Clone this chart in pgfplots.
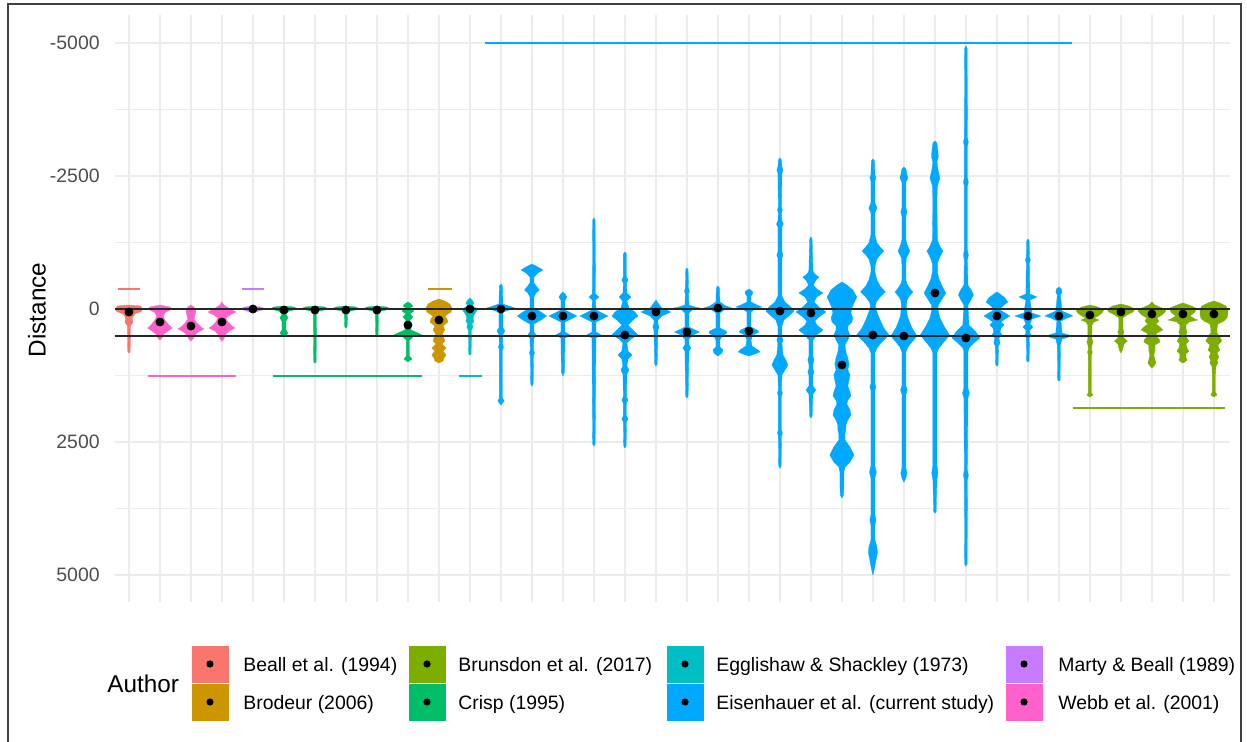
\documentclass[border=0pt]{standalone}
\usepackage{fontspec}
\setmainfont{Liberation Sans}
\usepackage{pgfplots}
\usepackage{pgfplotstable}
\pgfplotsset{compat=1.18}
\definecolor{cBeall}{HTML}{F8766D}
\definecolor{cBrodeur}{HTML}{CD9600}
\definecolor{cBrunsdon}{HTML}{7CAE00}
\definecolor{cCrisp}{HTML}{00BE67}
\definecolor{cEgg}{HTML}{00BFC4}
\definecolor{cEis}{HTML}{00A9FF}
\definecolor{cMarty}{HTML}{C77CFF}
\definecolor{cWebb}{HTML}{FF61CC}
\definecolor{gridc}{HTML}{EBEBEB}
\definecolor{tickc}{HTML}{4D4D4D}

\newcommand{\drawviolin}[3]{%
  \addplot[fill=#2, draw=#2, line width=0.15pt] table[x expr=#1+\thisrow{w}, y=y] {#3};
  \addplot[fill=#2, draw=#2, line width=0.15pt] table[x expr=#1-\thisrow{w}, y=y] {#3};
}

\pgfplotstableread[row sep=\\]{y w\\ -75 0\\ -56 0.39\\ 38 0.42\\ 94 0.19\\ 169 0.10\\ 244 0.13\\ 320 0.05\\ 808 0.04\\ 827 0\\}\violinA
\pgfplotstableread[row sep=\\]{y w\\ -75 0\\ -38 0.32\\ 0 0.39\\ 56 0.19\\ 132 0.10\\ 207 0.16\\ 301 0.29\\ 357 0.40\\ 414 0.26\\ 470 0.13\\ 545 0.065\\ 583 0\\}\violinB
\pgfplotstableread[row sep=\\]{y w\\ -75 0\\ -38 0.10\\ 38 0.16\\ 113 0.13\\ 188 0.10\\ 263 0.19\\ 338 0.32\\ 376 0.42\\ 432 0.23\\ 489 0.13\\ 564 0.065\\ 602 0\\}\violinC
\pgfplotstableread[row sep=\\]{y w\\ -132 0\\ -75 0.065\\ 0 0.26\\ 56 0.45\\ 113 0.26\\ 169 0.13\\ 244 0.19\\ 320 0.32\\ 357 0.42\\ 414 0.23\\ 489 0.10\\ 564 0.065\\ 602 0\\}\violinD
\pgfplotstableread[row sep=\\]{y w\\ -56 0\\ -38 0.26\\ 0 0.42\\ 38 0.19\\ 75 0\\}\violinE
\pgfplotstableread[row sep=\\]{y w\\ -56 0\\ -38 0.32\\ 0 0.45\\ 38 0.16\\ 94 0.065\\ 169 0.13\\ 226 0.065\\ 395 0.065\\ 451 0.13\\ 508 0.05\\ 526 0\\}\violinF
\pgfplotstableread[row sep=\\]{y w\\ -56 0\\ -38 0.32\\ 0 0.45\\ 38 0.13\\ 94 0.05\\ 996 0.04\\ 1015 0\\}\violinG
\pgfplotstableread[row sep=\\]{y w\\ -56 0\\ -38 0.32\\ 0 0.45\\ 38 0.13\\ 94 0.05\\ 338 0.04\\ 357 0\\}\violinH
\pgfplotstableread[row sep=\\]{y w\\ -56 0\\ -38 0.32\\ 0 0.45\\ 38 0.13\\ 94 0.05\\ 489 0.04\\ 508 0\\}\violinI
\pgfplotstableread[row sep=\\]{y w\\ -132 0\\ -94 0.10\\ -56 0.16\\ -19 0.065\\ 38 0.19\\ 94 0.065\\ 150 0.16\\ 207 0.065\\ 395 0.10\\ 451 0.32\\ 489 0.45\\ 526 0.16\\ 583 0.05\\ 884 0.05\\ 940 0.13\\ 996 0\\}\violinJ
\pgfplotstableread[row sep=\\]{y w\\ -188 0\\ -150 0.19\\ -94 0.35\\ -19 0.42\\ 56 0.39\\ 132 0.19\\ 188 0.26\\ 244 0.29\\ 320 0.13\\ 395 0.19\\ 470 0.10\\ 545 0.16\\ 602 0.19\\ 658 0.10\\ 733 0.23\\ 790 0.13\\ 865 0.23\\ 921 0.16\\ 978 0.13\\ 1015 0\\}\violinK
\pgfplotstableread[row sep=\\]{y w\\ -207 0\\ -169 0.065\\ -113 0.13\\ -56 0.065\\ 0 0.26\\ 56 0.19\\ 113 0.13\\ 169 0.10\\ 226 0.13\\ 282 0.065\\ 338 0.10\\ 395 0.05\\ 846 0.04\\ 865 0\\}\violinL
\pgfplotstableread[row sep=\\]{y w\\ -470 0\\ -432 0.05\\ -94 0.065\\ -56 0.26\\ -19 0.45\\ 19 0.26\\ 56 0.065\\ 357 0.065\\ 414 0.13\\ 470 0.065\\ 658 0.05\\ 714 0.08\\ 771 0.05\\ 1673 0.05\\ 1730 0.10\\ 1805 0\\}\violinM
\pgfplotstableread[row sep=\\]{y w\\ -846 0\\ -790 0.19\\ -733 0.35\\ -677 0.19\\ -602 0.065\\ -489 0.065\\ -414 0.16\\ -357 0.24\\ -301 0.13\\ -226 0.065\\ -19 0.065\\ 56 0.29\\ 132 0.47\\ 207 0.29\\ 282 0.065\\ 432 0.065\\ 489 0.13\\ 545 0.065\\ 771 0.05\\ 827 0.08\\ 884 0.05\\ 1410 0.04\\ 1448 0\\}\violinN
\pgfplotstableread[row sep=\\]{y w\\ -320 0\\ -282 0.065\\ -226 0.13\\ -169 0.065\\ 19 0.065\\ 75 0.26\\ 132 0.45\\ 188 0.26\\ 244 0.065\\ 432 0.065\\ 489 0.23\\ 545 0.065\\ 1184 0.05\\ 1260 0\\}\violinO
\pgfplotstableread[row sep=\\]{y w\\ -1711 0\\ -1673 0.04\\ -282 0.05\\ -226 0.16\\ -169 0.05\\ 19 0.065\\ 75 0.26\\ 132 0.45\\ 188 0.26\\ 244 0.065\\ 432 0.065\\ 489 0.23\\ 545 0.065\\ 2538 0.04\\ 2576 0\\}\violinP
\pgfplotstableread[row sep=\\]{y w\\ -1072 0\\ -1034 0.05\\ -602 0.05\\ -545 0.10\\ -489 0.05\\ -301 0.065\\ -226 0.19\\ -150 0.065\\ -19 0.13\\ 56 0.32\\ 132 0.42\\ 207 0.26\\ 301 0.10\\ 395 0.26\\ 489 0.42\\ 564 0.19\\ 639 0.065\\ 790 0.10\\ 865 0.23\\ 940 0.10\\ 1072 0.065\\ 1147 0.13\\ 1222 0.065\\ 1654 0.05\\ 1711 0.10\\ 1767 0.05\\ 2011 0.05\\ 2068 0.10\\ 2124 0.05\\ 2576 0.04\\ 2613 0\\}\violinQ
\pgfplotstableread[row sep=\\]{y w\\ -169 0\\ -113 0.065\\ -19 0.19\\ 56 0.48\\ 132 0.19\\ 207 0.065\\ 282 0.065\\ 338 0.10\\ 395 0.065\\ 1034 0.04\\ 1072 0\\}\violinR
\pgfplotstableread[row sep=\\]{y w\\ -771 0\\ -733 0.04\\ -395 0.05\\ -338 0.08\\ -282 0.05\\ -75 0.065\\ -38 0.26\\ -19 0.42\\ 19 0.16\\ 75 0.065\\ 338 0.065\\ 395 0.26\\ 432 0.40\\ 489 0.19\\ 564 0.065\\ 677 0.065\\ 733 0.13\\ 790 0.065\\ 1636 0.04\\ 1673 0\\}\violinS
\pgfplotstableread[row sep=\\]{y w\\ -432 0\\ -395 0.05\\ -132 0.065\\ -56 0.26\\ -19 0.45\\ 19 0.19\\ 75 0.065\\ 357 0.065\\ 414 0.26\\ 451 0.29\\ 508 0.13\\ 583 0.065\\ 714 0.065\\ 771 0.16\\ 827 0.13\\ 884 0\\}\violinT
\pgfplotstableread[row sep=\\]{y w\\ -376 0\\ -338 0.10\\ -301 0.13\\ -244 0.065\\ -132 0.065\\ -75 0.26\\ -38 0.42\\ 0 0.19\\ 56 0.065\\ 338 0.065\\ 395 0.26\\ 432 0.32\\ 489 0.13\\ 583 0.065\\ 696 0.10\\ 771 0.29\\ 808 0.35\\ 846 0.19\\ 884 0\\}\violinU
\pgfplotstableread[row sep=\\]{y w\\ -2839 0\\ -2801 0.05\\ -2669 0.065\\ -2613 0.10\\ -2556 0.065\\ -1918 0.05\\ -1861 0.08\\ -1805 0.05\\ -1654 0.065\\ -1598 0.11\\ -1542 0.065\\ -1072 0.065\\ -1015 0.10\\ -959 0.065\\ -244 0.065\\ -132 0.16\\ -38 0.35\\ 38 0.45\\ 113 0.32\\ 207 0.13\\ 320 0.065\\ 526 0.065\\ 583 0.10\\ 639 0.065\\ 865 0.10\\ 959 0.19\\ 1053 0.26\\ 1147 0.16\\ 1241 0.065\\ 1523 0.05\\ 1579 0.08\\ 1636 0.05\\ 2274 0.05\\ 2331 0.08\\ 2387 0.05\\ 2952 0.04\\ 2989 0\\}\violinV
\pgfplotstableread[row sep=\\]{y w\\ -1354 0\\ -1316 0.04\\ -733 0.065\\ -696 0.08\\ -639 0.16\\ -602 0.26\\ -545 0.16\\ -451 0.08\\ -376 0.19\\ -301 0.39\\ -226 0.19\\ -132 0.10\\ -38 0.26\\ 56 0.48\\ 150 0.26\\ 226 0.13\\ 301 0.19\\ 395 0.39\\ 489 0.19\\ 583 0.065\\ 884 0.065\\ 959 0.10\\ 1034 0.065\\ 1128 0.065\\ 1184 0.10\\ 1241 0.065\\ 1448 0.065\\ 1523 0.16\\ 1598 0.065\\ 2011 0.04\\ 2049 0\\}\violinW
\pgfplotstableread[row sep=\\]{y w\\ -508 0\\ -451 0.16\\ -357 0.35\\ -226 0.48\\ -113 0.39\\ -19 0.32\\ 75 0.29\\ 169 0.35\\ 244 0.32\\ 320 0.19\\ 395 0.19\\ 489 0.26\\ 583 0.19\\ 677 0.10\\ 808 0.13\\ 921 0.19\\ 1034 0.23\\ 1147 0.19\\ 1241 0.26\\ 1335 0.23\\ 1448 0.19\\ 1560 0.26\\ 1636 0.29\\ 1711 0.19\\ 1786 0.16\\ 1899 0.26\\ 1993 0.29\\ 2087 0.19\\ 2181 0.13\\ 2274 0.13\\ 2350 0.10\\ 2463 0.10\\ 2594 0.26\\ 2745 0.39\\ 2877 0.26\\ 2971 0.10\\ 3065 0.065\\ 3309 0.065\\ 3497 0.05\\ 3553 0\\}\violinX
\pgfplotstableread[row sep=\\]{y w\\ -2820 0\\ -2782 0.05\\ -2519 0.065\\ -2463 0.10\\ -2406 0.065\\ -1993 0.065\\ -1899 0.13\\ -1805 0.065\\ -1391 0.065\\ -1241 0.13\\ -1166 0.23\\ -1090 0.35\\ -1015 0.23\\ -940 0.13\\ -808 0.065\\ -696 0.065\\ -545 0.13\\ -432 0.23\\ -320 0.40\\ -226 0.23\\ -132 0.11\\ -56 0.08\\ 56 0.13\\ 207 0.23\\ 357 0.35\\ 489 0.52\\ 620 0.29\\ 733 0.13\\ 827 0.065\\ 1410 0.065\\ 1466 0.10\\ 1523 0.065\\ 2952 0.065\\ 3065 0.11\\ 3177 0.065\\ 3873 0.065\\ 3967 0.10\\ 4061 0.065\\ 4343 0.065\\ 4474 0.13\\ 4587 0.145\\ 4719 0.10\\ 4832 0.065\\ 5001 0\\}\violinY
\pgfplotstableread[row sep=\\]{y w\\ -2669 0\\ -2632 0.065\\ -2519 0.10\\ -2463 0.13\\ -2387 0.065\\ -1899 0.065\\ -1823 0.10\\ -1748 0.065\\ -1297 0.065\\ -1222 0.10\\ -1147 0.145\\ -1090 0.19\\ -1034 0.145\\ -959 0.08\\ -846 0.065\\ -545 0.065\\ -470 0.10\\ -395 0.18\\ -320 0.29\\ -244 0.18\\ -169 0.10\\ -56 0.08\\ 132 0.11\\ 244 0.18\\ 357 0.26\\ 508 0.42\\ 620 0.26\\ 714 0.13\\ 808 0.065\\ 1448 0.065\\ 1523 0.11\\ 1598 0.065\\ 2989 0.065\\ 3083 0.10\\ 3177 0.065\\ 3253 0\\}\violinZ
\pgfplotstableread[row sep=\\]{y w\\ -3158 0\\ -3121 0.065\\ -2952 0.10\\ -2858 0.11\\ -2764 0.065\\ -2613 0.10\\ -2463 0.16\\ -2312 0.08\\ -2049 0.065\\ -1297 0.08\\ -1222 0.13\\ -1147 0.19\\ -1090 0.26\\ -1015 0.19\\ -940 0.13\\ -846 0.08\\ -696 0.08\\ -564 0.13\\ -432 0.23\\ -301 0.35\\ -188 0.23\\ -75 0.11\\ 19 0.10\\ 169 0.16\\ 320 0.29\\ 489 0.47\\ 620 0.29\\ 733 0.13\\ 827 0.065\\ 2933 0.065\\ 3083 0.10\\ 3215 0.065\\ 3816 0.04\\ 3835 0\\}\violinAA
\pgfplotstableread[row sep=\\]{y w\\ -4944 0\\ -4906 0.04\\ -3215 0.05\\ -3140 0.08\\ -3065 0.05\\ -2463 0.05\\ -2387 0.08\\ -2312 0.05\\ -1109 0.05\\ -1015 0.08\\ -921 0.05\\ -451 0.065\\ -338 0.19\\ -263 0.24\\ -169 0.16\\ -75 0.065\\ 301 0.10\\ 432 0.32\\ 545 0.45\\ 639 0.26\\ 733 0.10\\ 808 0.065\\ 1485 0.065\\ 1579 0.11\\ 1673 0.065\\ 3027 0.05\\ 3121 0.08\\ 3215 0.05\\ 4794 0.04\\ 4832 0\\}\violinAB
\pgfplotstableread[row sep=\\]{y w\\ -320 0\\ -282 0.10\\ -207 0.26\\ -132 0.35\\ -56 0.19\\ 19 0.10\\ 75 0.26\\ 132 0.42\\ 188 0.26\\ 244 0.13\\ 301 0.23\\ 357 0.13\\ 432 0.10\\ 489 0.16\\ 545 0.065\\ 639 0.10\\ 696 0.05\\ 1053 0.04\\ 1072 0\\}\violinAC
\pgfplotstableread[row sep=\\]{y w\\ -1316 0\\ -1278 0.04\\ -978 0.05\\ -921 0.08\\ -865 0.05\\ -282 0.065\\ -226 0.29\\ -169 0.065\\ 75 0.13\\ 132 0.42\\ 188 0.13\\ 282 0.065\\ 338 0.16\\ 395 0.065\\ 451 0.065\\ 489 0.10\\ 545 0.05\\ 978 0.04\\ 996 0\\}\violinAD
\pgfplotstableread[row sep=\\]{y w\\ -414 0\\ -376 0.08\\ -320 0.10\\ -263 0.05\\ 38 0.10\\ 94 0.32\\ 132 0.45\\ 169 0.26\\ 226 0.065\\ 451 0.10\\ 489 0.32\\ 526 0.32\\ 564 0.10\\ 677 0.05\\ 1335 0.04\\ 1354 0\\}\violinAE
\pgfplotstableread[row sep=\\]{y w\\ -75 0\\ -38 0.26\\ 19 0.45\\ 75 0.39\\ 132 0.26\\ 169 0.13\\ 207 0.29\\ 244 0.13\\ 301 0.065\\ 564 0.065\\ 620 0.10\\ 677 0.065\\ 771 0.05\\ 808 0.08\\ 865 0.05\\ 1579 0.05\\ 1617 0.10\\ 1654 0\\}\violinAF
\pgfplotstableread[row sep=\\]{y w\\ -94 0\\ -56 0.26\\ 0 0.45\\ 56 0.39\\ 113 0.19\\ 169 0.065\\ 376 0.065\\ 432 0.10\\ 489 0.065\\ 545 0.10\\ 602 0.21\\ 658 0.10\\ 771 0.05\\ 827 0\\}\violinAG
\pgfplotstableread[row sep=\\]{y w\\ -132 0\\ -75 0.10\\ -19 0.32\\ 38 0.45\\ 113 0.32\\ 169 0.16\\ 226 0.23\\ 282 0.13\\ 338 0.26\\ 395 0.35\\ 451 0.16\\ 508 0.13\\ 564 0.23\\ 620 0.26\\ 677 0.10\\ 771 0.10\\ 865 0.065\\ 959 0.10\\ 1015 0.13\\ 1072 0.065\\ 1109 0\\}\violinAH
\pgfplotstableread[row sep=\\]{y w\\ -113 0\\ -75 0.19\\ -19 0.42\\ 56 0.39\\ 132 0.23\\ 188 0.39\\ 207 0.48\\ 244 0.19\\ 301 0.10\\ 376 0.10\\ 432 0.13\\ 489 0.10\\ 545 0.13\\ 602 0.19\\ 658 0.10\\ 733 0.13\\ 790 0.19\\ 846 0.10\\ 921 0.10\\ 959 0.13\\ 996 0.065\\ 1015 0\\}\violinAI
\pgfplotstableread[row sep=\\]{y w\\ -150 0\\ -113 0.19\\ -56 0.39\\ 19 0.45\\ 94 0.45\\ 169 0.42\\ 226 0.32\\ 282 0.13\\ 357 0.10\\ 451 0.10\\ 526 0.19\\ 602 0.26\\ 677 0.13\\ 733 0.16\\ 771 0.19\\ 827 0.10\\ 902 0.16\\ 959 0.10\\ 1015 0.13\\ 1072 0.065\\ 1241 0.05\\ 1561 0.05\\ 1617 0.10\\ 1654 0\\}\violinAJ

\begin{document}
\begin{tikzpicture}
\useasboundingbox (0pt,0pt) rectangle (623.5pt,-371pt);
\begin{axis}[
  at={(57.5pt,-301pt)}, anchor=south west,
  scale only axis, width=557.5pt, height=293.5pt,
  xmin=0.55, xmax=36.52, ymin=-5527, ymax=5508, y dir=reverse,
  axis line style={draw=none},
  major tick length=0pt, minor tick length=0pt,
  xtick={1,...,36}, xticklabels={},
  ytick={-5000,-2500,0,2500,5000},
  yticklabels={-5000,-2500,0,2500,5000},
  minor ytick={-3750,-1250,1250,3750},
  xmajorgrids, ymajorgrids, yminorgrids,
  major grid style={gridc, line width=1pt},
  minor grid style={gridc, line width=0.5pt},
  yticklabel style={font=\fontsize{9.7}{11}\selectfont, text=tickc, anchor=east, inner sep=0pt, xshift=-7.5pt},
]
\drawviolin{1}{cBeall}{\violinA}
\drawviolin{2}{cWebb}{\violinB}
\drawviolin{3}{cWebb}{\violinC}
\drawviolin{4}{cWebb}{\violinD}
\drawviolin{5}{cMarty}{\violinE}
\drawviolin{6}{cCrisp}{\violinF}
\drawviolin{7}{cCrisp}{\violinG}
\drawviolin{8}{cCrisp}{\violinH}
\drawviolin{9}{cCrisp}{\violinI}
\drawviolin{10}{cCrisp}{\violinJ}
\drawviolin{11}{cBrodeur}{\violinK}
\drawviolin{12}{cEgg}{\violinL}
\drawviolin{13}{cEis}{\violinM}
\drawviolin{14}{cEis}{\violinN}
\drawviolin{15}{cEis}{\violinO}
\drawviolin{16}{cEis}{\violinP}
\drawviolin{17}{cEis}{\violinQ}
\drawviolin{18}{cEis}{\violinR}
\drawviolin{19}{cEis}{\violinS}
\drawviolin{20}{cEis}{\violinT}
\drawviolin{21}{cEis}{\violinU}
\drawviolin{22}{cEis}{\violinV}
\drawviolin{23}{cEis}{\violinW}
\drawviolin{24}{cEis}{\violinX}
\drawviolin{25}{cEis}{\violinY}
\drawviolin{26}{cEis}{\violinZ}
\drawviolin{27}{cEis}{\violinAA}
\drawviolin{28}{cEis}{\violinAB}
\drawviolin{29}{cEis}{\violinAC}
\drawviolin{30}{cEis}{\violinAD}
\drawviolin{31}{cEis}{\violinAE}
\drawviolin{32}{cBrunsdon}{\violinAF}
\drawviolin{33}{cBrunsdon}{\violinAG}
\drawviolin{34}{cBrunsdon}{\violinAH}
\drawviolin{35}{cBrunsdon}{\violinAI}
\drawviolin{36}{cBrunsdon}{\violinAJ}
% reference lines
\addplot[black!85, line width=1pt] coordinates {(0.55,0) (36.52,0)};
\addplot[black!85, line width=1pt] coordinates {(0.55,500) (36.52,500)};
% group segments
\addplot[cBeall, line width=1pt] coordinates {(0.65,-376) (1.35,-376)};
\addplot[cWebb, line width=1pt] coordinates {(1.61,1260) (4.45,1260)};
\addplot[cMarty, line width=1pt] coordinates {(4.65,-376) (5.35,-376)};
\addplot[cCrisp, line width=1pt] coordinates {(5.65,1260) (10.45,1260)};
\addplot[cBrodeur, line width=1pt] coordinates {(10.65,-376) (11.42,-376)};
\addplot[cEgg, line width=1pt] coordinates {(11.65,1260) (12.39,1260)};
\addplot[cEis, line width=1pt] coordinates {(12.48,-5000) (31.42,-5000)};
\addplot[cBrunsdon, line width=1pt] coordinates {(31.45,1861) (36.35,1861)};
% medians
\addplot[only marks, mark=*, mark size=2pt, black] coordinates {
(1,56) (2,244) (3,320) (4,244) (5,0) (6,19) (7,19) (8,19) (9,19) (10,301)
(11,207) (12,0) (13,0) (14,132) (15,132) (16,132) (17,489) (18,56) (19,432) (20,-19)
(21,414) (22,38) (23,75) (24,1053) (25,489) (26,508) (27,-301) (28,545) (29,132) (30,132)
(31,132) (32,113) (33,56) (34,94) (35,94) (36,94)};
\end{axis}
% y axis title
\node[rotate=90, inner sep=0pt, font=\fontsize{12.15}{14}\selectfont] at (18.5pt,-155pt) {Distance};
% legend
\node[anchor=base west, inner sep=0pt, font=\fontsize{12.15}{14}\selectfont] at (53.5pt,-346.4pt) {Author};
\foreach \kx/\tx/\ca/\ta/\cb/\tb in {
  95.5/121.5/cBeall/{Beall et al. (1994)}/cBrodeur/{Brodeur (2006)},
  204/229/cBrunsdon/{Brunsdon et al. (2017)}/cCrisp/{Crisp (1995)},
  333/358/cEgg/{Egglishaw \& Shackley (1973)}/cEis/{Eisenhauer et al. (current study)},
  502.5/529/cMarty/{Marty \& Beall (1989)}/cWebb/{Webb et al. (2001)}} {
  \fill[\ca, draw=white, line width=0.3pt] (\kx pt,-322.5pt) rectangle ++(19pt,-19pt);
  \fill[\cb, draw=white, line width=0.3pt] (\kx pt,-341.5pt) rectangle ++(19pt,-19pt);
  \fill[black] (\kx pt+9.5pt,-332pt) circle (1.8pt);
  \fill[black] (\kx pt+9.5pt,-351pt) circle (1.8pt);
  \node[anchor=base west, inner sep=0pt, font=\fontsize{9.7}{11}\selectfont] at (\tx pt,-335.5pt) {\ta};
  \node[anchor=base west, inner sep=0pt, font=\fontsize{9.7}{11}\selectfont] at (\tx pt,-354.5pt) {\tb};
}
% frame
\draw[black!75, line width=0.8pt] (4pt,-371pt) -- (4pt,-2pt) -- (620.5pt,-2pt) -- (620.5pt,-371pt);
\end{tikzpicture}
\end{document}
